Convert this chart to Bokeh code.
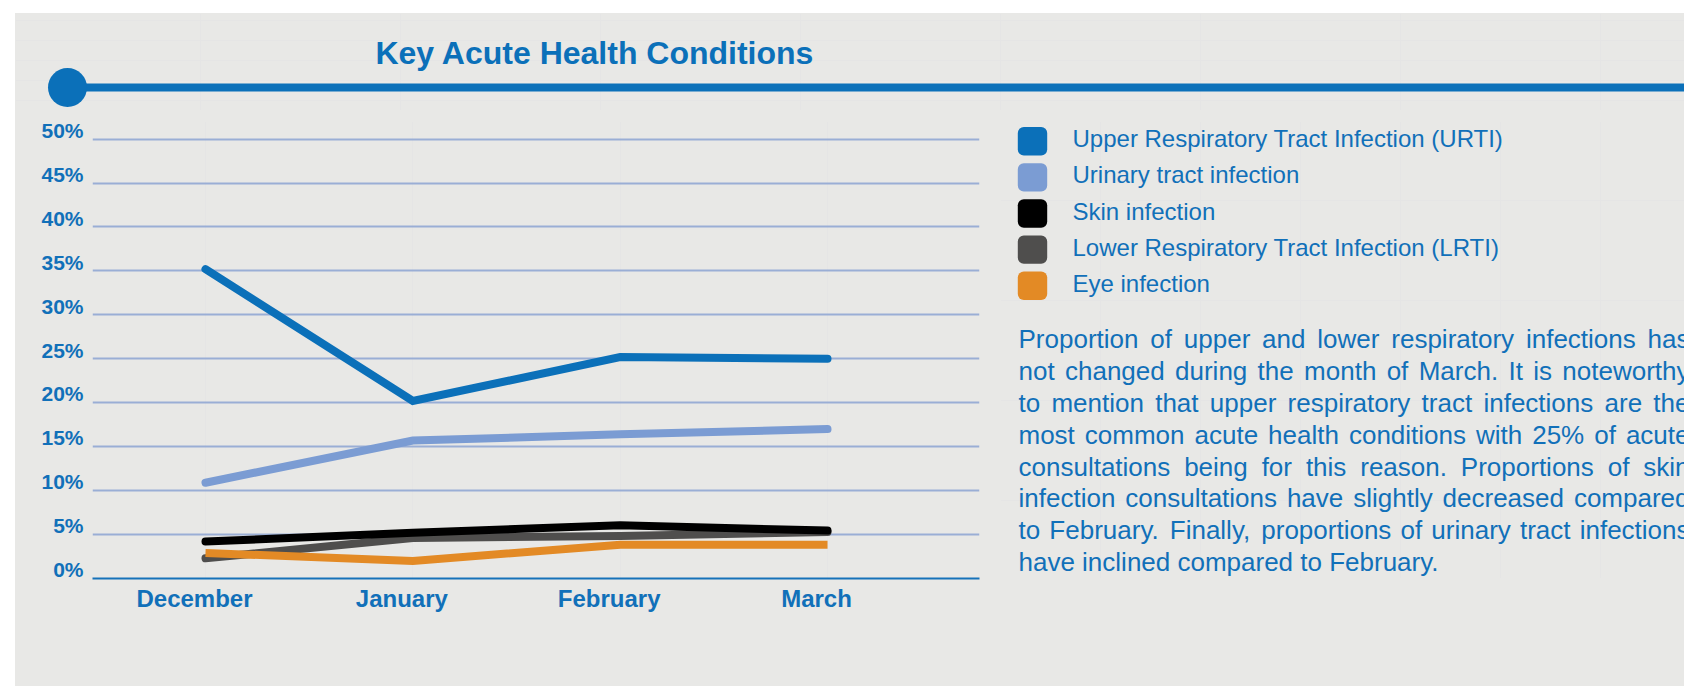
from bokeh.plotting import figure
from bokeh.models import Range1d, LinearAxis, Grid, FixedTicker
from bokeh.layouts import column, row
from bokeh.embed import file_html
from bokeh.resources import INLINE
from bokeh.core.properties import value

# ---------------- data ----------------
months = ["December", "January", "February", "March"]
series_names = [
    "Upper Respiratory Tract Infection (URTI)",
    "Urinary tract infection",
    "Skin infection",
    "Lower Respiratory Tract Infection (LRTI)",
    "Eye infection",
]
urti = [35.2, 20.2, 25.2, 25.0]
uti = [10.9, 15.7, 16.4, 17.0]
skin = [4.2, 5.2, 6.05, 5.45]
lrti = [2.3, 4.6, 4.85, 5.3]
eye = [2.9, 2.0, 3.85, 3.85]
y_ticks = [0, 5, 10, 15, 20, 25, 30, 35, 40, 45, 50]
y_tick_labels = ["0%", "5%", "10%", "15%", "20%", "25%", "30%", "35%", "40%", "45%", "50%"]
title_text = "Key Acute Health Conditions"
para_lines = [
    "Proportion of upper and lower respiratory infections has",
    "not changed during the month of March. It is noteworthy",
    "to mention that upper respiratory tract infections are the",
    "most common acute health conditions with 25% of acute",
    "consultations being for this reason. Proportions of skin",
    "infection consultations have slightly decreased compared",
    "to February. Finally, proportions of urinary tract infections",
    "have inclined compared to February.",
]

# ---------------- style ----------------
BG = "#E8E8E6"
BLUE_TXT = "#1170B9"
FONT = "Liberation Sans"
MID = 0.3465  # offset (in em) from alphabetic baseline to the middle of the text box
colors = {
    "urti": "#0B70B9",
    "uti": "#7B9CD3",
    "skin": "#000000",
    "lrti": "#4F4E4D",
    "eye": "#E38A25",
}
legend_colors = [colors["urti"], colors["uti"], colors["skin"], colors["lrti"], colors["eye"]]


def base_fig(**kw):
    p = figure(output_backend="svg", toolbar_location=None, **kw)
    p.background_fill_color = None
    p.border_fill_color = BG
    p.outline_line_color = None
    return p


# ---------------- header ----------------
header = base_fig(width=1669, height=97, x_range=Range1d(15, 1684), y_range=Range1d(110, 13),
                  x_axis_location=None, y_axis_location=None, min_border=0)
header.segment(x0=[67], y0=[87], x1=[1684], y1=[87], line_color="#0B70B9", line_width=8)
header.scatter(x=[67], y=[87], size=39, marker="circle", fill_color="#0B70B9", line_color=None)
header.text(x=[594.5], y=[63.3 - MID * 32], text=[title_text], text_font=value(FONT), text_font_style="bold",
            text_font_size="32px", text_color="#0B70B9", text_align="center", text_baseline="middle")

# ---------------- chart ----------------
xs = list(range(len(months)))
x0, x1 = -0.545, 3.733
dx = 0.053
TOP_B, BOT_B = 11, 108
chart = base_fig(width=985, height=576, x_range=Range1d(x0, x1), y_range=Range1d(0, 52),
                 x_axis_location=None, y_axis_location=None,
                 min_border_left=77, min_border_right=21, min_border_top=TOP_B, min_border_bottom=BOT_B)
chart.extra_x_ranges = {"xlab": Range1d(x0 + dx, x1 + dx)}
chart.extra_y_ranges = {"ylab": Range1d(-1.0, 51.0)}

grid = Grid(dimension=1, ticker=FixedTicker(ticks=y_ticks), grid_line_color="#9AAED5", grid_line_width=1.8)
chart.add_layout(grid)

xaxis = LinearAxis(x_range_name="xlab", ticker=FixedTicker(ticks=xs),
                   major_label_overrides={i: m for i, m in enumerate(months)})
xaxis.axis_line_color = "#1672B9"
xaxis.axis_line_width = 2
xaxis.major_tick_line_color = None
xaxis.minor_tick_line_color = None
xaxis.major_tick_out = 0
xaxis.major_label_standoff = 6
xaxis.major_label_text_font = FONT
xaxis.major_label_text_font_style = "bold"
xaxis.major_label_text_font_size = "24px"
xaxis.major_label_text_color = BLUE_TXT
chart.add_layout(xaxis, "below")

yaxis = LinearAxis(y_range_name="ylab", ticker=FixedTicker(ticks=y_ticks),
                   major_label_overrides={t: l for t, l in zip(y_ticks, y_tick_labels)})
yaxis.axis_line_color = None
yaxis.major_tick_line_color = None
yaxis.minor_tick_line_color = None
yaxis.major_tick_out = 0
yaxis.major_label_standoff = 9
yaxis.major_label_text_font = FONT
yaxis.major_label_text_font_style = "bold"
yaxis.major_label_text_font_size = "21px"
yaxis.major_label_text_color = BLUE_TXT
chart.add_layout(yaxis, "left")

chart.line(xs, urti, line_color=colors["urti"], line_width=8, line_cap="round", line_join="miter")
chart.line(xs, uti, line_color=colors["uti"], line_width=8, line_cap="round", line_join="miter")
chart.line(xs, lrti, line_color=colors["lrti"], line_width=8, line_cap="round", line_join="miter")
chart.line(xs, skin, line_color=colors["skin"], line_width=8, line_cap="round", line_join="miter")
chart.line(xs, eye, line_color=colors["eye"], line_width=8, line_cap="butt", line_join="miter")

# ---------------- side panel (legend + commentary) ----------------
# same vertical borders as the chart so the row keeps both frames aligned; page coords 121..578
side = base_fig(width=684, height=576, x_range=Range1d(1000, 1684), y_range=Range1d(110 + 576 - BOT_B, 110 + TOP_B),
                x_axis_location=None, y_axis_location=None,
                min_border_left=0, min_border_right=0, min_border_top=TOP_B, min_border_bottom=BOT_B)

n = len(series_names)
leg_cy = [140.8 + i * 36.1 for i in range(n)]
side.quad(left=[1017.3] * n, right=[1046.7] * n,
          top=[c - 14.2 for c in leg_cy], bottom=[c + 14.2 for c in leg_cy],
          fill_color=legend_colors, line_color=None, border_radius=6)
side.text(x=[1072] * n, y=[c + 5.9 - MID * 24 for c in leg_cy], text=series_names, text_font=value(FONT),
          text_font_size="24px", text_color=BLUE_TXT, text_align="left", text_baseline="middle")

# justified paragraph, word by word (Arial / Liberation Sans advance widths)
AW = dict(a=556, b=556, c=500, d=556, e=556, f=278, g=556, h=556, i=222, j=222, k=500, l=222, m=833,
          n=556, o=556, p=556, q=556, r=333, s=500, t=278, u=556, v=500, w=722, x=500, y=500, z=500)
AW.update({"P": 667, "M": 833, "I": 278, "F": 611, "2": 556, "5": 556, "%": 889, ".": 278, ",": 278, " ": 278})
FS = 26.0


def tw(s):
    return sum(AW.get(ch, 556) for ch in s) * FS / 1000.0


BOX_W = 671.0
wx, wy, wt = [], [], []
for j, line in enumerate(para_lines):
    ws = line.split(" ")
    nat = sum(tw(w) for w in ws)
    gap = (BOX_W - nat) / (len(ws) - 1) if j < len(para_lines) - 1 else tw(" ")
    x = 1018.0
    for w in ws:
        wx.append(x)
        wy.append(347.5 + j * 31.9 - MID * FS)
        wt.append(w)
        x += tw(w) + gap
side.text(x=wx, y=wy, text=wt, text_font=value(FONT), text_font_size="26px", text_color=BLUE_TXT,
          text_align="left", text_baseline="middle")

layout = column(header, row(chart, side, styles={"background-color": BG}),
                margin=(13, 0, -8, 15), styles={"background-color": BG})

open("out.html", "w").write(file_html(layout, INLINE))
